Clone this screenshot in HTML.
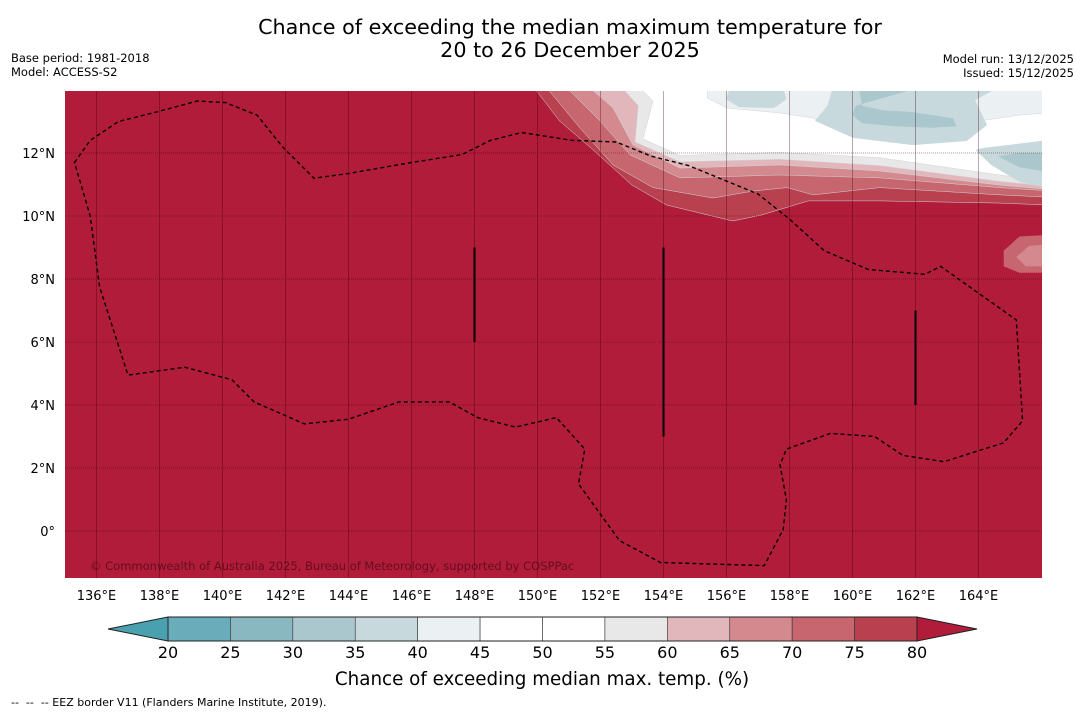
<!DOCTYPE html>
<html><head><meta charset="utf-8">
<style>
body{margin:0;background:#fff;width:1085px;height:713px;overflow:hidden;font-family:"DejaVu Sans","Liberation Sans",sans-serif;}
svg{display:block}
</style></head><body>
<svg id="chart" width="1085" height="713" viewBox="0 0 1085 713" font-family="DejaVu Sans, Liberation Sans, sans-serif">
  <text x="570" y="34" text-anchor="middle" font-size="20.7">Chance of exceeding the median maximum temperature for</text>
  <text x="570" y="57" text-anchor="middle" font-size="20.7">20 to 26 December 2025</text>
  <text x="11" y="62" font-size="11.5">Base period: 1981-2018</text>
  <text x="11" y="76" font-size="11.5">Model: ACCESS-S2</text>
  <text x="1074" y="63" text-anchor="end" font-size="11.5">Model run: 13/12/2025</text>
  <text x="1074" y="77" text-anchor="end" font-size="11.5">Issued: 15/12/2025</text>
  <defs><clipPath id="mapclip"><rect x="65" y="91" width="977" height="487"/></clipPath></defs>
  <g id="map" clip-path="url(#mapclip)"></g>
  <g id="axes"></g>
  <g id="cbar"></g>
  <text x="542" y="685" text-anchor="middle" font-size="18.3">Chance of exceeding median max. temp. (%)</text>
  <text x="11" y="706" font-size="11" xml:space="preserve">--  --  -- EEZ border V11 (Flanders Marine Institute, 2019).</text>
</svg>
<script>
const NS='http://www.w3.org/2000/svg';
// ---- data ----
const lonTicks=[136,138,140,142,144,146,148,150,152,154,156,158,160,162,164];
const latTicks=[0,2,4,6,8,10,12];
const cbarLevels=[20,25,30,35,40,45,50,55,60,65,70,75,80];
const cbarColors=['#6aacb9','#89b8c0','#a9c7cc','#c8d9dd','#ebf0f2','#ffffff','#ffffff','#e8e8e8','#e2b7bc','#d4898f','#c7666f','#b9414f'];
const lowColor='#49a1b0', highColor='#b01c3a';
// contour band boundaries [lon,lat], region to the north gets the colour
const band75=[[149.1,14.2],[149.9,14.06],[150.7,13.02],[151.7,12.16],[153.0,10.98],[154.1,10.35],[156.2,9.84],[157.1,10.03],[158.6,10.48],[160.9,10.48],[164.7,10.41],[166.2,10.35]];
const band70=[[150.3,14.2],[150.3,14.06],[151.35,12.79],[152.4,11.62],[153.67,10.9],[155.57,10.57],[156.84,10.79],[157.92,10.9],[158.75,10.67],[160.87,10.9],[164.68,10.67],[166.2,10.6]];
const band65=[[150.9,14.2],[150.94,14.06],[151.98,13.02],[152.94,11.94],[154.52,11.21],[157.7,11.3],[160.87,11.21],[164.68,10.9],[166.2,10.8]];
const band60=[[151.6,14.2],[151.67,14.06],[152.4,13.43],[153.03,12.25],[154.52,11.52],[157.7,11.62],[160.87,11.43],[164.68,10.98],[166.2,10.85]];
const band55=[[152.6,14.2],[152.7,14.06],[153.2,13.5],[153.1,12.35],[154.52,11.72],[157.7,11.8],[160.87,11.6],[164.68,11.1],[166.2,10.95]];
const band50=[[153.2,14.2],[153.25,14.06],[153.67,13.65],[153.35,12.45],[154.52,11.92],[157.7,12.02],[160.87,11.85],[164.68,11.3],[166.2,11.1]];
const band45=[[155.41,14.2],[155.41,14.06],[155.38,13.75],[156.02,13.43],[157.7,13.27],[158.75,13.11],[159.19,12.89],[160.02,12.57],[161.92,12.38],[163.41,12.48],[164.05,13.02],[165.32,13.21],[166.2,13.27]];
const blob40a=[[156.1,14.1],[156.0,13.7],[156.4,13.45],[157.5,13.43],[157.9,13.7],[157.8,14.1]];
const blob40b=[[159.38,14.1],[159.2,13.5],[158.81,13.02],[160.02,12.48],[161.92,12.25],[163.63,12.38],[164.27,12.89],[163.89,13.68],[164.68,14.1]];
const blob40c=[[163.9,12.1],[164.14,12.16],[166.2,12.41],[166.2,10.89],[165.3,11.08],[164.4,11.62]];
const blob35a=[[160.2,14.1],[160.3,13.5],[161.0,13.35],[161.9,13.3],[163.2,13.1],[163.3,12.85],[162.5,12.8],[161.3,12.85],[160.3,12.95],[160.0,13.2],[160.1,13.5],[162.2,14.1]];
const blob35b=[[164.6,11.9],[165.3,12.0],[166.2,12.0],[166.2,11.4],[165.3,11.55]];
const blobRedOuter=[[166.2,9.4],[165.3,9.35],[164.8,8.9],[164.8,8.4],[165.3,8.2],[166.2,8.2]];
const blobRedInner=[[166.2,9.1],[165.6,9.05],[165.2,8.7],[165.5,8.4],[166.2,8.4]];
const eez=[[135.3,11.7],[135.8,12.4],[136.7,13.0],[137.9,13.3],[139.2,13.65],[140.1,13.6],[141.1,13.2],[141.9,12.2],[142.9,11.2],[144.0,11.35],[146.0,11.7],[147.6,11.95],[147.9,12.1],[148.5,12.4],[149.5,12.65],[151.1,12.4],[152.5,12.35],[153.6,11.9],[154.8,11.6],[157.0,10.7],[158.0,9.9],[159.1,8.9],[160.5,8.3],[162.3,8.15],[162.8,8.4],[165.2,6.7],[165.4,3.5],[164.8,2.8],[162.9,2.2],[161.6,2.4],[160.7,3.0],[159.3,3.1],[157.9,2.6],[157.7,2.1],[157.9,1.0],[157.8,0.05],[157.2,-1.1],[153.9,-1.0],[152.6,-0.3],[151.3,1.5],[151.5,2.6],[150.6,3.6],[149.3,3.3],[148.1,3.6],[147.2,4.1],[145.6,4.1],[144.0,3.55],[142.6,3.4],[141.0,4.1],[140.3,4.8],[138.8,5.2],[137.0,4.95],[136.1,7.75],[135.8,10.0],[135.3,11.7]];
const meridionalLines=[[148,9.0,6.0],[154,9.0,3.0],[162,7.0,4.0]];
// ---- projection ----
const X=lon=>65+(lon-135)*31.5;
const Y=lat=>531-lat*31.5;
function el(tag,attrs,parent){const e=document.createElementNS(NS,tag);for(const k in attrs)e.setAttribute(k,attrs[k]);parent.appendChild(e);return e;}
const map=document.getElementById('map'),axes=document.getElementById('axes'),cbar=document.getElementById('cbar');
let r=el('rect',{x:65,y:91,width:977,height:487,fill:highColor},map);


function bandPath(pts){return 'M'+pts.map(p=>X(p[0]).toFixed(1)+','+Y(p[1]).toFixed(1)).join('L')+'L'+X(166.5)+','+Y(14.5)+'L'+X(pts[0][0])+','+Y(14.5)+'Z';}
function polyPath(pts){return 'M'+pts.map(p=>X(p[0]).toFixed(1)+','+Y(p[1]).toFixed(1)).join('L')+'Z';}
const bands=[[band75,cbarColors[11],'band-75-80'],[band70,cbarColors[10],'band-70-75'],[band65,cbarColors[9],'band-65-70'],[band60,cbarColors[8],'band-60-65'],[band55,cbarColors[7],'band-55-60'],[band50,'#ffffff','band-45-55'],[band45,cbarColors[4],'band-40-45']];
bands.forEach(b=>{const p=el('path',{d:bandPath(b[0]),fill:b[1],stroke:'#d0d4d6','stroke-width':0.5,'stroke-linejoin':'round'},map);

});
const blobs=[[blob40a,cbarColors[3],'blob-35-40-a'],[blob40b,cbarColors[3],'blob-35-40-b'],[blob40c,cbarColors[3],'blob-35-40-c'],[blob35a,cbarColors[2],'blob-30-35-a'],[blob35b,cbarColors[2],'blob-30-35-b'],[blobRedOuter,cbarColors[10],'blob-70-75'],[blobRedInner,cbarColors[9],'blob-65-70']];
blobs.forEach(b=>{const p=el('path',{d:polyPath(b[0]),fill:b[1],'stroke-linejoin':'round'},map);

});
lonTicks.forEach(l=>{const g=el('line',{x1:X(l),x2:X(l),y1:91,y2:578,stroke:'rgba(60,0,10,0.35)','stroke-width':1},map);

});
latTicks.forEach(l=>{const g=el('line',{x1:65,x2:1042,y1:Y(l),y2:Y(l),stroke:'rgba(60,0,10,0.4)','stroke-width':1,'stroke-dasharray':'1,1'},map);

});
let ez=el('path',{d:polyPath(eez),fill:'none',stroke:'#000','stroke-width':1.4,'stroke-dasharray':'4,3'},map);


meridionalLines.forEach(m=>{const l=el('line',{x1:X(m[0]),x2:X(m[0]),y1:Y(m[1]),y2:Y(m[2]),stroke:'#000','stroke-width':2},map);

});
let cp=el('text',{x:90,y:570,'font-size':11.5,fill:'rgba(40,0,10,0.55)'},map);
cp.textContent='© Commonwealth of Australia 2025, Bureau of Meteorology, supported by COSPPac';


lonTicks.forEach(l=>{const t=el('text',{x:X(l),y:600,'text-anchor':'middle','font-size':13},axes);t.textContent=l+'°E';

});
latTicks.forEach(l=>{const t=el('text',{x:55,y:Y(l)+5,'text-anchor':'end','font-size':13},axes);t.textContent=l===0?'0°':l+'°N';

});
const cx0=168,cx1=917,cy0=617,cy1=641;
const CX=v=>cx0+(v-20)/60*(cx1-cx0);
let lo=el('polygon',{points:`${cx0},${cy0} ${cx0},${cy1} 108,629`,fill:lowColor,stroke:'#222','stroke-width':1},cbar);


let hi=el('polygon',{points:`${cx1},${cy0} ${cx1},${cy1} 977,629`,fill:highColor,stroke:'#222','stroke-width':1},cbar);


cbarColors.forEach((c,i)=>{const s=el('rect',{x:CX(cbarLevels[i]),y:cy0,width:CX(cbarLevels[i+1])-CX(cbarLevels[i]),height:cy1-cy0,fill:c,stroke:'#333','stroke-width':0.6},cbar);

});
let fr=el('rect',{x:cx0,y:cy0,width:cx1-cx0,height:cy1-cy0,fill:'none',stroke:'#222','stroke-width':1},cbar);


cbarLevels.forEach(v=>{const t=el('text',{x:CX(v),y:658,'text-anchor':'middle','font-size':16},cbar);t.textContent=v;

});
</script>
</body></html>
